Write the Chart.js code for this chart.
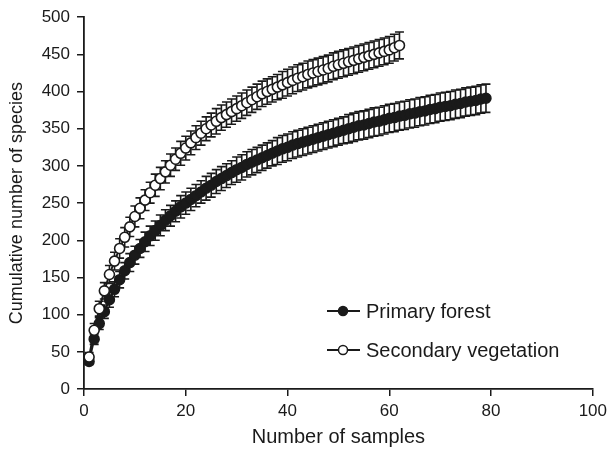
<!DOCTYPE html>
<html>
<head>
<meta charset="utf-8">
<script src="https://cdn.jsdelivr.net/npm/chart.js@4/dist/chart.umd.min.js"></script>
<style>
html,body{margin:0;padding:0;background:#fff;}
#wrap{width:612px;height:452px;position:relative;}
</style>
</head>
<body>
<div id="wrap"><canvas id="c"></canvas></div>
<script>
// ---- data ----
const seriesNames = ["Primary forest", "Secondary vegetation"];

const primarySamples = [1,2,3,4,5,6,7,8,9,10,11,12,13,14,15,16,17,18,19,20,21,22,23,24,25,26,27,28,29,30,31,32,33,34,35,36,37,38,39,40,41,42,43,44,45,46,47,48,49,50,51,52,53,54,55,56,57,58,59,60,61,62,63,64,65,66,67,68,69,70,71,72,73,74,75,76,77,78,79];
const primarySpecies = [37,67,88,104,120,134,147,159,170,180,189,198,206,213,220,227,233,239,245,250,255,260,265,270,274,279,283,287,291,295,298,302,305,308,311,314,317,320,323,325,328,330,332,334,336,338,340,342,344,346,348,350,352,354,355,357,359,360,362,364,365,367,368,370,371,373,374,376,377,379,380,381,383,384,386,387,388,390,391];
const primaryError = [4,7,8,9,10,10,11,11,12,12,12,13,13,13,14,14,14,14,15,15,15,15,15,16,16,16,16,16,16,17,17,17,17,17,17,17,17,18,18,18,18,18,18,18,18,18,18,18,18,18,18,19,19,19,19,19,19,19,19,19,19,19,19,19,19,19,19,19,19,19,19,19,19,19,19,19,19,19,19];

const secondarySamples = [1,2,3,4,5,6,7,8,9,10,11,12,13,14,15,16,17,18,19,20,21,22,23,24,25,26,27,28,29,30,31,32,33,34,35,36,37,38,39,40,41,42,43,44,45,46,47,48,49,50,51,52,53,54,55,56,57,58,59,60,61,62];
const secondarySpecies = [43,79,108,132,154,172,189,204,218,232,243,254,264,274,283,292,301,309,317,324,331,338,344,350,355,360,365,369,373,377,381,385,389,393,397,400,403,406,409,412,415,418,420,423,425,427,429,431,434,436,438,440,442,444,446,448,450,452,454,456,459,462];
const secondaryError = [6,9,10,11,12,12,13,13,13,14,14,14,14,15,15,15,15,15,16,16,16,16,16,16,16,17,17,17,17,17,17,17,17,17,17,17,17,17,18,18,18,18,18,18,18,18,18,18,18,18,18,18,18,18,18,18,18,18,18,18,18,18];

const xTickValues = [0,20,40,60,80,100];
const yTickValues = [0,50,100,150,200,250,300,350,400,450,500];
const xTitle = "Number of samples";
const yTitle = "Cumulative number of species";

// ---- chart ----
const FONT = "'Liberation Sans', Arial, Helvetica, sans-serif";
const INK = "#1a1a1a";

function toPoints(xs, ys, es){ return xs.map((x,i)=>({x:x, y:ys[i], e:es[i]})); }

const errorBars = {
  id:'errorBars',
  beforeDatasetsDraw(chart){
    const ctx = chart.ctx, xs = chart.scales.x, ys = chart.scales.y;
    ctx.save();
    ctx.strokeStyle = INK;
    ctx.lineWidth = 1.6;
    chart.data.datasets.forEach(ds=>{
      ds.data.forEach(p=>{
        const px = xs.getPixelForValue(p.x);
        const top = ys.getPixelForValue(p.y + p.e);
        const bot = ys.getPixelForValue(p.y - p.e);
        ctx.beginPath();
        ctx.moveTo(px, top); ctx.lineTo(px, bot);
        ctx.moveTo(px-4.5, top); ctx.lineTo(px+4.5, top);
        ctx.moveTo(px-4.5, bot); ctx.lineTo(px+4.5, bot);
        ctx.stroke();
      });
    });
    ctx.restore();
  }
};

const customLegend = {
  id:'customLegend',
  afterDraw(chart){
    const ctx = chart.ctx;
    const x0 = 327, x1 = 360, cx = 343, tx = 366;
    const rows = [311, 350];
    ctx.save();
    chart.data.datasets.forEach((ds,i)=>{
      const y = rows[i];
      ctx.strokeStyle = INK; ctx.lineWidth = 2;
      ctx.beginPath(); ctx.moveTo(x0,y); ctx.lineTo(x1,y); ctx.stroke();
      ctx.beginPath(); ctx.arc(cx, y, 4.5, 0, Math.PI*2);
      ctx.fillStyle = ds.pointBackgroundColor; ctx.fill();
      ctx.lineWidth = 1.5; ctx.stroke();
      ctx.fillStyle = INK;
      ctx.font = "20px " + FONT;
      ctx.textBaseline = 'middle'; ctx.textAlign = 'left';
      ctx.fillText(ds.label, tx, y+1);
    });
    ctx.restore();
  }
};

new Chart(document.getElementById('c'), {
  type:'line',
  data:{
    datasets:[
      { label: seriesNames[0], data: toPoints(primarySamples, primarySpecies, primaryError),
        borderColor: INK, borderWidth: 2, pointRadius: 5, pointBorderWidth: 1.5,
        pointBackgroundColor: INK, pointBorderColor: INK, tension: 0, order: 2 },
      { label: seriesNames[1], data: toPoints(secondarySamples, secondarySpecies, secondaryError),
        borderColor: INK, borderWidth: 2, pointRadius: 5, pointBorderWidth: 1.6,
        pointBackgroundColor: '#ffffff', pointBorderColor: INK, tension: 0, order: 1 }
    ]
  },
  options:{
    responsive:true, maintainAspectRatio:false, animation:false,
    layout:{ padding:{ top:15, right:16, left:0, bottom:0 } },
    plugins:{ legend:{display:false}, tooltip:{enabled:false} },
    scales:{
      x:{
        type:'linear', min:0, max:100,
        afterBuildTicks(s){ s.ticks = xTickValues.map(v=>({value:v})); },
        afterFit(s){ s.height = 63; },
        grid:{ display:true, drawOnChartArea:false, drawTicks:true, tickLength:7, color:INK, lineWidth:1.5 },
        border:{ display:true, color:INK, width:1.8 },
        ticks:{ color:INK, font:{family:FONT, size:17}, padding:5, maxRotation:0 },
        title:{ display:true, text:xTitle, color:INK, font:{family:FONT, size:20}, padding:{top:0,bottom:3} }
      },
      y:{
        type:'linear', min:0, max:500,
        afterBuildTicks(s){ s.ticks = yTickValues.map(v=>({value:v})); },
        afterFit(s){ s.width = 84; },
        grid:{ display:true, drawOnChartArea:false, drawTicks:true, tickLength:7, color:INK, lineWidth:1.5 },
        border:{ display:true, color:INK, width:1.8 },
        ticks:{ color:INK, font:{family:FONT, size:17}, padding:7 },
        title:{ display:true, text:yTitle, color:INK, font:{family:FONT, size:18}, padding:{top:6,bottom:0} }
      }
    }
  },
  plugins:[errorBars, customLegend]
});
</script>
</body>
</html>
